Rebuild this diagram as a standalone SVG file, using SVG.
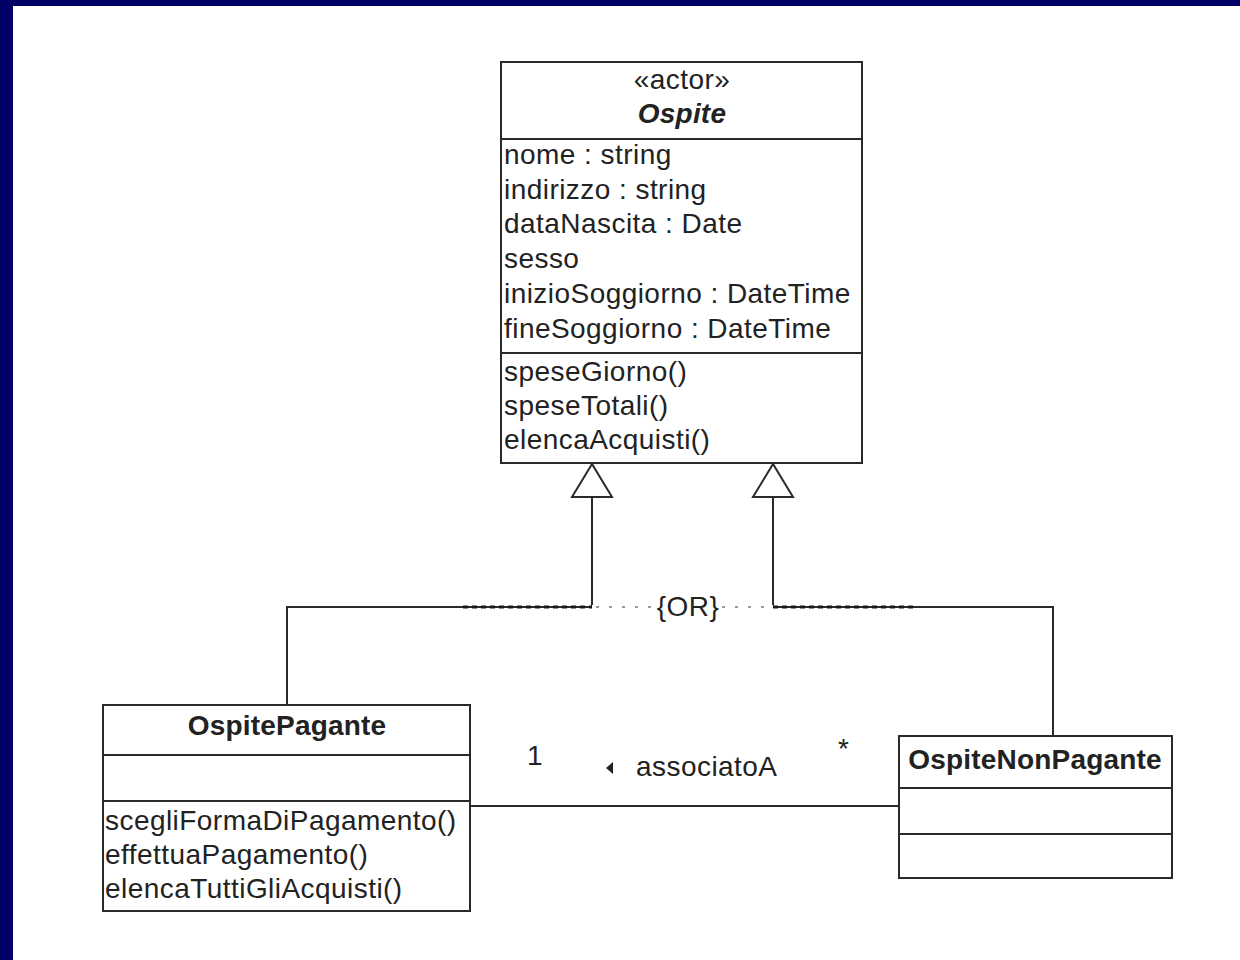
<svg xmlns="http://www.w3.org/2000/svg" width="1240" height="960" viewBox="0 0 1240 960">
<style>
.box{fill:#fff;stroke:#2a2a2a;stroke-width:2}
.div{stroke:#2a2a2a;stroke-width:2}
.t{font-family:"Liberation Sans",Arial,sans-serif;font-size:28px;fill:#222;letter-spacing:0.45px}
.b{font-weight:bold;letter-spacing:0.2px}
.c{text-anchor:middle}
.ln{fill:none;stroke:#2a2a2a;stroke-width:2}
.tri{fill:#fff;stroke:#2a2a2a;stroke-width:2;stroke-linejoin:miter}
</style>
<rect x="0" y="0" width="1240" height="960" fill="#fff"/>
<rect x="0" y="0" width="1240" height="6" fill="#000066"/>
<rect x="0" y="0" width="13" height="960" fill="#000066"/>

<g id="connectors">
  <path class="ln" d="M287,705 V607 H592 V497"/>
  <path class="ln" d="M1053,736 V607 H773 V497"/>
  <line x1="592" y1="607" x2="773" y2="607" stroke="#fff" stroke-width="4"/>
  <line x1="463" y1="607" x2="592" y2="607" stroke="#1a1a1a" stroke-width="3" stroke-dasharray="5 4"/>
  <line x1="773" y1="607" x2="915" y2="607" stroke="#1a1a1a" stroke-width="3" stroke-dasharray="5 4"/>
  <line x1="596" y1="607" x2="655" y2="607" stroke="#999" stroke-width="2" stroke-dasharray="3 10"/>
  <line x1="722" y1="607" x2="770" y2="607" stroke="#999" stroke-width="2" stroke-dasharray="3 10"/>
  <polygon class="tri" points="592,464 572,497 612,497"/>
  <polygon class="tri" points="773,464 753,497 793,497"/>
  <text class="t c" x="688" y="616">{OR}</text>
  <line class="ln" x1="471" y1="806" x2="899" y2="806"/>
  <text class="t" x="527" y="765">1</text>
  <polygon points="613,762 606,768 613,774" fill="#222"/>
  <text class="t" x="636" y="776">associatoA</text>
  <text class="t" x="838" y="758" font-size="24">*</text>
</g>

<g id="Ospite">
  <rect class="box" x="501" y="62" width="361" height="401"/>
  <line class="div" x1="501" y1="139" x2="862" y2="139"/>
  <line class="div" x1="501" y1="353" x2="862" y2="353"/>
  <text class="t c" x="682" y="89">«actor»</text>
  <text class="t c b" x="682" y="123" font-style="italic">Ospite</text>
  <text class="t" x="504" y="164">nome : string</text>
  <text class="t" x="504" y="199">indirizzo : string</text>
  <text class="t" x="504" y="233">dataNascita : Date</text>
  <text class="t" x="504" y="268">sesso</text>
  <text class="t" x="504" y="303">inizioSoggiorno : DateTime</text>
  <text class="t" x="504" y="338">fineSoggiorno : DateTime</text>
  <text class="t" x="504" y="381">speseGiorno()</text>
  <text class="t" x="504" y="415">speseTotali()</text>
  <text class="t" x="504" y="449">elencaAcquisti()</text>
</g>

<g id="OspitePagante">
  <rect class="box" x="103" y="705" width="367" height="206"/>
  <line class="div" x1="103" y1="755" x2="470" y2="755"/>
  <line class="div" x1="103" y1="801" x2="470" y2="801"/>
  <text class="t c b" x="287" y="735">OspitePagante</text>
  <text class="t" x="105" y="830">scegliFormaDiPagamento()</text>
  <text class="t" x="105" y="864">effettuaPagamento()</text>
  <text class="t" x="105" y="898">elencaTuttiGliAcquisti()</text>
</g>

<g id="OspiteNonPagante">
  <rect class="box" x="899" y="736" width="273" height="142"/>
  <line class="div" x1="899" y1="788" x2="1172" y2="788"/>
  <line class="div" x1="899" y1="834" x2="1172" y2="834"/>
  <text class="t c b" x="1035" y="769">OspiteNonPagante</text>
</g>
</svg>
